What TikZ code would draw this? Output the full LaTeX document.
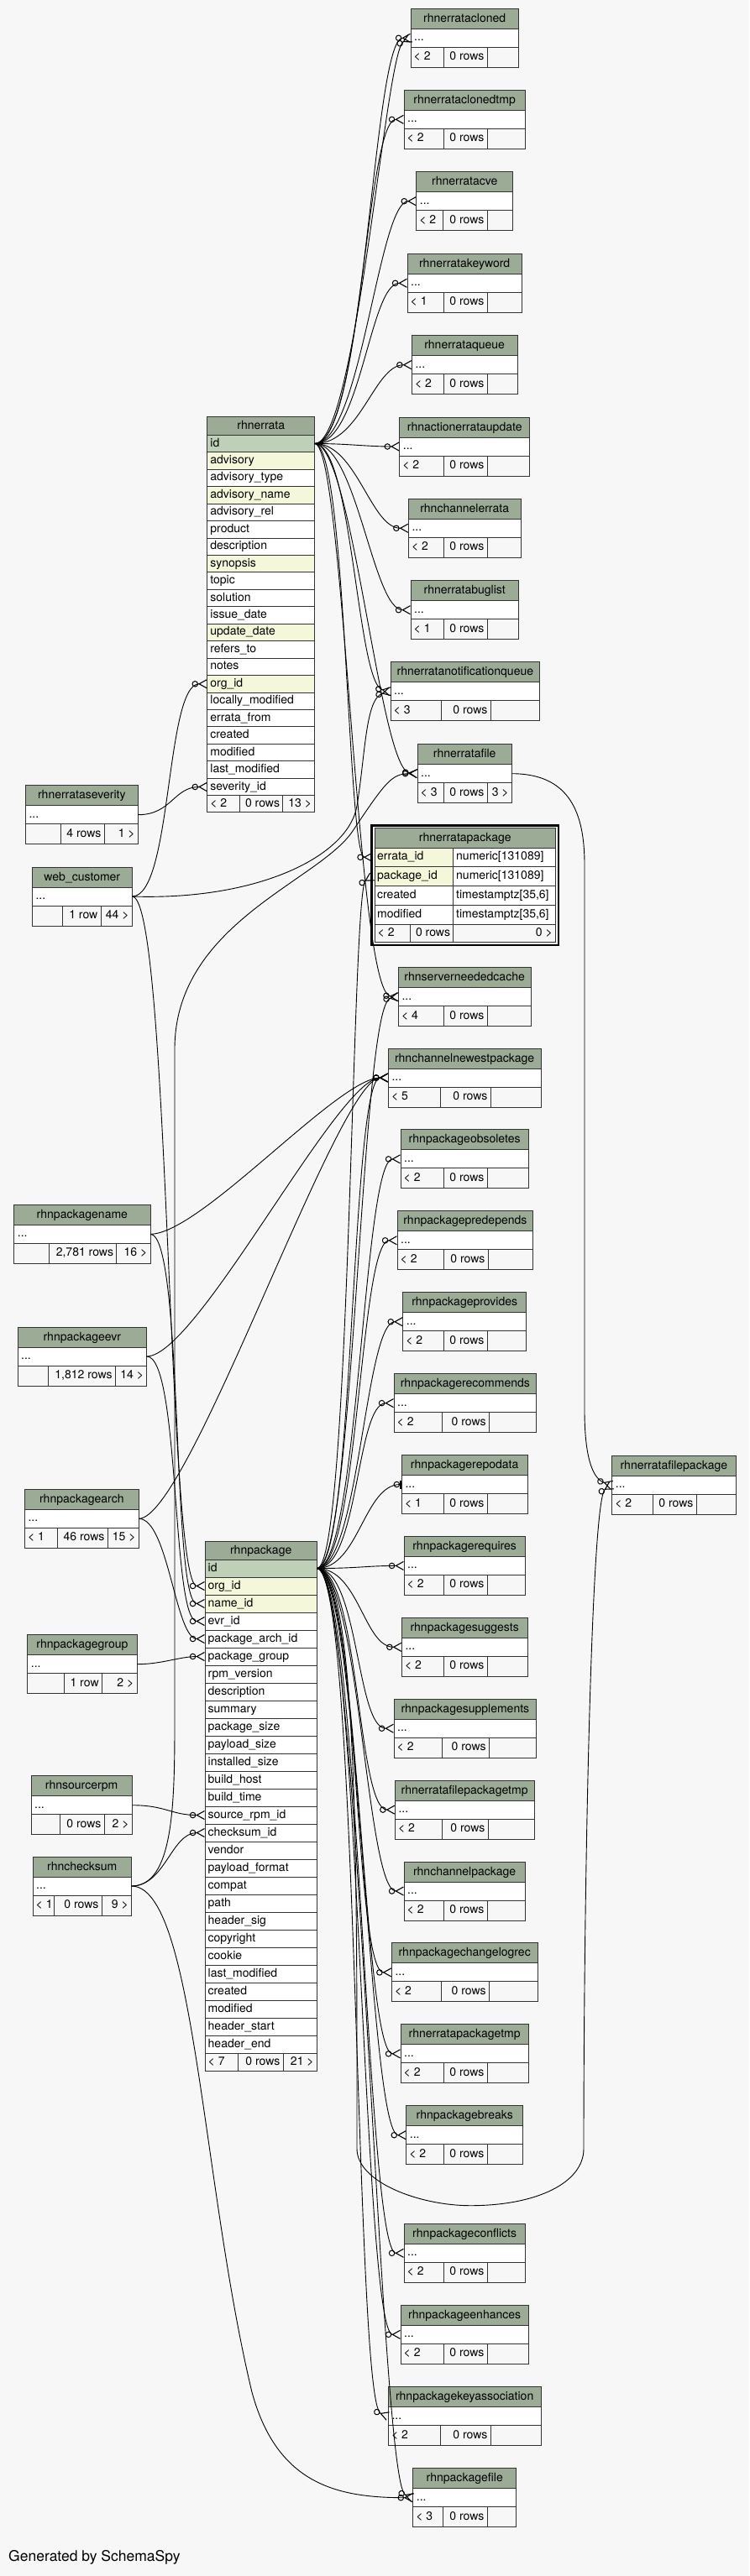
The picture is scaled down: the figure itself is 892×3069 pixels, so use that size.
\documentclass[tikz,border=0pt]{standalone}
\usepackage{fontspec}
\setmainfont{TeX Gyre Heros}
\usetikzlibrary{arrows.meta}
\definecolor{bg}{HTML}{F7F7F7}
\definecolor{hdr}{HTML}{9BAB96}
\definecolor{pk}{HTML}{BED1B8}
\definecolor{ix}{HTML}{F4F7DA}
\definecolor{pl}{HTML}{FFFFFF}
\definecolor{ft}{HTML}{F7F7F7}
\definecolor{bd}{HTML}{333333}
\tikzset{
  cellbox/.style={draw=bd, line width=1pt},
  txt/.style={font=\fontsize{14}{16}\selectfont, inner sep=0pt, text height=10pt, text depth=3pt, text=black},
  edge/.style={draw=black, line width=0.9pt},
  crowend/.style={-{Circle[open,length=7.5pt,width=7.5pt,line width=1pt]Straight Barb[reversed,length=9pt,width=10pt,line width=1.1pt]}},
  teeend/.style={-{Circle[open,length=7.5pt,width=7.5pt,line width=1pt]Bar[width=10pt,line width=2.2pt]}},
}
\def\curtitle{}
\newcommand\stab[9]{%
  \path[cellbox,fill=hdr] (#2,#3) rectangle (#4,#3+24);
  \node[txt] (#1-t) at ({(#2+#4)/2},#3+12.5) {\ifx\curtitle\empty #1\else\curtitle\fi};
  \path[cellbox,fill=white] (#2,#3+24) rectangle (#4,#3+46);
  \node[txt,anchor=west] (#1-d) at (#2+4,#3+35) {...};
  \coordinate (#1-w) at (#2,#3+35);
  \coordinate (#1-e) at (#4,#3+35);
  \path[cellbox,fill=ft] (#2,#3+46) rectangle (#5,#3+70);
  \path[cellbox,fill=ft] (#5,#3+46) rectangle (#6,#3+70);
  \path[cellbox,fill=ft] (#6,#3+46) rectangle (#4,#3+70);
  \node[txt,anchor=west] (#1-f1) at (#2+3.5,#3+58) {#7};
  \node[txt,anchor=east] (#1-f2) at (#6-3.5,#3+58) {#8};
  \node[txt,anchor=east] (#1-f3) at (#4-3.5,#3+58) {#9};
}
\newcommand\fk[4][crowend]{\draw[edge,#1] (#2) .. controls #3 .. (#4);}
\begin{document}
\begin{tikzpicture}[x=1pt,y=-1pt]
\path[fill=bg,use as bounding box] (0,0) rectangle (892,3069);

% ---------------- right column ----------------
\stab{rhnerratacloned}{489}{10.3}{617.3}{528}{580}{< 2}{0 rows}{}
\stab{rhnerrataclonedtmp}{481}{107.3}{625.3}{528}{580}{< 2}{0 rows}{}
\stab{rhnerratacve}{495.7}{204.7}{610.7}{527.7}{580}{< 2}{0 rows}{}
\stab{rhnerratakeyword}{485}{302.3}{621.3}{528}{580}{< 1}{0 rows}{}
\stab{rhnerrataqueue}{490.3}{399.7}{616}{528}{580}{< 2}{0 rows}{}
\stab{rhnactionerrataupdate}{475.7}{497}{630.7}{528}{580}{< 2}{0 rows}{}
\stab{rhnchannelerrata}{486.3}{594.3}{620}{528}{580}{< 2}{0 rows}{}
\stab{rhnerratabuglist}{489}{691.7}{617.3}{528}{580}{< 1}{0 rows}{}
\stab{rhnerratanotificationqueue}{465}{788.7}{642.7}{525.3}{584}{< 3}{0 rows}{}
\stab{rhnerratafile}{497}{886.7}{609.3}{528}{580}{< 3}{0 rows}{3 >}
\stab{rhnserverneededcache}{474.3}{1152.7}{632}{528}{580}{< 4}{0 rows}{}
\stab{rhnchannelnewestpackage}{462.3}{1249}{644}{524}{584}{< 5}{0 rows}{}
\stab{rhnpackageobsoletes}{477}{1345.9}{629.3}{528}{580}{< 2}{0 rows}{}
\stab{rhnpackagepredepends}{473}{1442.8}{634.7}{528}{581}{< 2}{0 rows}{}
\stab{rhnpackageprovides}{479.7}{1539.7}{626.7}{528}{580}{< 2}{0 rows}{}
\stab{rhnpackagerecommends}{469}{1636.6}{638.7}{526.7}{582.3}{< 2}{0 rows}{}
\stab{rhnpackagerepodata}{478.3}{1733.5}{628}{528}{580}{< 1}{0 rows}{}
\stab{rhnpackagerequires}{481}{1830.4}{625.3}{528}{580}{< 2}{0 rows}{}
\stab{rhnpackagesuggests}{478.3}{1927.3}{628}{528}{580}{< 2}{0 rows}{}
\stab{rhnpackagesupplements}{469}{2024.2}{638.7}{526.7}{582.3}{< 2}{0 rows}{}
\stab{rhnerratafilepackagetmp}{470.3}{2121.1}{636}{526.7}{581}{< 2}{0 rows}{}
\stab{rhnchannelpackage}{481}{2218}{625.3}{528}{580}{< 2}{0 rows}{}
\stab{rhnpackagechangelogrec}{466.3}{2314.9}{640}{525.3}{582.3}{< 2}{0 rows}{}
\stab{rhnerratapackagetmp}{477}{2411.8}{629.3}{528}{580}{< 2}{0 rows}{}
\stab{rhnpackagebreaks}{483.7}{2508.7}{622.7}{528}{580}{< 2}{0 rows}{}
\stab{rhnpackageconflicts}{481}{2649.3}{625.3}{528}{580}{< 2}{0 rows}{}
\stab{rhnpackageenhances}{477}{2746.3}{629.3}{528}{580}{< 2}{0 rows}{}
\stab{rhnpackagekeyassociation}{462.3}{2843.7}{644}{524}{584}{< 2}{0 rows}{}
\stab{rhnpackagefile}{491.7}{2940.7}{614.7}{527.7}{580}{< 3}{0 rows}{}
\stab{rhnerratafilepackage}{728.7}{1734.3}{876}{777}{829}{< 2}{0 rows}{}

% ---------------- left column ----------------
\stab{rhnerrataseverity}{30.3}{935.7}{164.3}{72}{124}{}{4 rows}{1 >}
\begin{scope}\def\curtitle{web\_customer}
\stab{webcustomer}{38.3}{1033}{157.3}{74.7}{120}{}{1 row}{44 >}
\end{scope}
\stab{rhnpackagename}{16.7}{1435.3}{179}{58.7}{138.7}{}{2,781 rows}{16 >}
\stab{rhnpackageevr}{21}{1581}{174.7}{57.3}{137.3}{}{1,812 rows}{14 >}
\stab{rhnpackagearch}{29.3}{1774.3}{165.3}{68}{128}{< 1}{46 rows}{15 >}
\stab{rhnpackagegroup}{32.7}{1947.7}{163}{76}{121.3}{}{1 row}{2 >}
\stab{rhnsourcerpm}{37}{2115.7}{157.3}{71.7}{124}{}{0 rows}{2 >}
\stab{rhnchecksum}{39}{2212}{156.5}{64.5}{121}{< 1}{0 rows}{9 >}

% ---------------- rhnerrata ----------------
\path[cellbox,fill=hdr] (246.7,496.7) rectangle (374.7,518.3);
\node[txt] (rhnerrata-t) at (310.7,508) {rhnerrata};
\foreach \n/\c [count=\i from 0] in {id/pk,advisory/ix,advisory\_type/pl,advisory\_name/ix,advisory\_rel/pl,product/pl,description/pl,synopsis/ix,topic/pl,solution/pl,issue\_date/pl,update\_date/ix,refers\_to/pl,notes/pl,org\_id/ix,locally\_modified/pl,errata\_from/pl,created/pl,modified/pl,last\_modified/pl,severity\_id/pl}{
  \path[cellbox,fill=\c] (246.7,518.3+20.45*\i) rectangle (374.7,538.75+20.45*\i);
  \node[txt,anchor=west] (rhnerrata-r\i) at (250.2,528.5+20.45*\i) {\n};
}
\path[cellbox,fill=ft] (246.7,947.7) rectangle (285,967.7);
\path[cellbox,fill=ft] (285,947.7) rectangle (336.7,967.7);
\path[cellbox,fill=ft] (336.7,947.7) rectangle (374.7,967.7);
\node[txt,anchor=west] (rhnerrata-f1) at (250.2,957.7) {< 2};
\node[txt,anchor=east] (rhnerrata-f2) at (333.2,957.7) {0 rows};
\node[txt,anchor=east] (rhnerrata-f3) at (371.2,957.7) {13 >};
\coordinate (rhnerrata-id) at (374.7,528.5);
\coordinate (rhnerrata-org) at (246.7,814.8);
\coordinate (rhnerrata-sev) at (246.7,937.5);

% ---------------- rhnpackage ----------------
\path[cellbox,fill=hdr] (244,1836) rectangle (377.3,1858);
\node[txt] (rhnpackage-t) at (310.7,1847.5) {rhnpackage};
\foreach \n/\c [count=\i from 0] in {id/pk,org\_id/ix,name\_id/ix,evr\_id/pl,package\_arch\_id/pl,package\_group/pl,rpm\_version/pl,description/pl,summary/pl,package\_size/pl,payload\_size/pl,installed\_size/pl,build\_host/pl,build\_time/pl,source\_rpm\_id/pl,checksum\_id/pl,vendor/pl,payload\_format/pl,compat/pl,path/pl,header\_sig/pl,copyright/pl,cookie/pl,last\_modified/pl,created/pl,modified/pl,header\_start/pl,header\_end/pl}{
  \path[cellbox,fill=\c] (244,1858+21*\i) rectangle (377.3,1879+21*\i);
  \node[txt,anchor=west] (rhnpackage-r\i) at (247.5,1868.5+21*\i) {\n};
}
\path[cellbox,fill=ft] (244,2446) rectangle (283,2467);
\path[cellbox,fill=ft] (283,2446) rectangle (337,2467);
\path[cellbox,fill=ft] (337,2446) rectangle (377.3,2467);
\node[txt,anchor=west] (rhnpackage-f1) at (247.5,2456.5) {< 7};
\node[txt,anchor=east] (rhnpackage-f2) at (333.5,2456.5) {0 rows};
\node[txt,anchor=east] (rhnpackage-f3) at (373.8,2456.5) {21 >};
\coordinate (rhnpackage-id) at (377.3,1868.5);
\coordinate (rhnpackage-org) at (244,1889.5);
\coordinate (rhnpackage-name) at (244,1910.5);
\coordinate (rhnpackage-evr) at (244,1931.5);
\coordinate (rhnpackage-arch) at (244,1952.5);
\coordinate (rhnpackage-group) at (244,1973.5);
\coordinate (rhnpackage-src) at (244,2162.5);
\coordinate (rhnpackage-chk) at (244,2183.5);

% ---------------- rhnerratapackage (selected) ----------------
\draw[draw=black,line width=2.6pt] (442.7,983.3) rectangle (665,1126);
\path[cellbox,fill=hdr] (446,986.5) rectangle (661.7,1010);
\node[txt] (rhnerratapackage-t) at (553.8,998.5) {rhnerratapackage};
\path[cellbox,fill=ix] (446,1010) rectangle (539.7,1032.7);
\path[cellbox,fill=white] (539.7,1010) rectangle (661.7,1032.7);
\path[cellbox,fill=ix] (446,1032.7) rectangle (539.7,1055.7);
\path[cellbox,fill=white] (539.7,1032.7) rectangle (661.7,1055.7);
\path[cellbox,fill=white] (446,1055.7) rectangle (539.7,1078.3);
\path[cellbox,fill=white] (539.7,1055.7) rectangle (661.7,1078.3);
\path[cellbox,fill=white] (446,1078.3) rectangle (539.7,1101);
\path[cellbox,fill=white] (539.7,1078.3) rectangle (661.7,1101);
\path[cellbox,fill=ft] (446,1101) rectangle (488,1122.8);
\path[cellbox,fill=ft] (488,1101) rectangle (539.7,1122.8);
\path[cellbox,fill=ft] (539.7,1101) rectangle (661.7,1122.8);
\node[txt,anchor=west] (ep-r0) at (449,1021.3) {errata\_id};
\node[txt,anchor=west] (ep-t0) at (543,1021.3) {numeric[131089]};
\node[txt,anchor=west] (ep-r1) at (449,1044.2) {package\_id};
\node[txt,anchor=west] (ep-t1) at (543,1044.2) {numeric[131089]};
\node[txt,anchor=west] (ep-r2) at (449,1067) {created};
\node[txt,anchor=west] (ep-t2) at (543,1067) {timestamptz[35,6]};
\node[txt,anchor=west] (ep-r3) at (449,1089.7) {modified};
\node[txt,anchor=west] (ep-t3) at (543,1089.7) {timestamptz[35,6]};
\node[txt,anchor=west] (ep-f1) at (449.5,1112) {< 2};
\node[txt,anchor=east] (ep-f2) at (536.2,1112) {0 rows};
\node[txt,anchor=east] (ep-f3) at (658,1112) {0 >};
\coordinate (ep-errata) at (443.5,1021.3);
\coordinate (ep-package) at (443.5,1044.2);

% ---------------- connectors: rhnerrata.id ----------------
\fk{rhnerrata-id}{+(60,0) and +(-45,0)}{rhnerratacloned-w}
\fk{rhnerrata-id}{+(50,0) and +(-30,15)}{rhnerratacloned-w}
\fk{rhnerrata-id}{+(55,0) and +(-45,0)}{rhnerrataclonedtmp-w}
\fk{rhnerrata-id}{+(55,0) and +(-45,0)}{rhnerratacve-w}
\fk{rhnerrata-id}{+(55,0) and +(-45,0)}{rhnerratakeyword-w}
\fk{rhnerrata-id}{+(55,0) and +(-45,0)}{rhnerrataqueue-w}
\fk{rhnerrata-id}{+(40,0) and +(-40,0)}{rhnactionerrataupdate-w}
\fk{rhnerrata-id}{+(50,0) and +(-45,0)}{rhnchannelerrata-w}
\fk{rhnerrata-id}{+(50,0) and +(-45,0)}{rhnerratabuglist-w}
\fk{rhnerrata-id}{+(45,0) and +(-40,-8)}{rhnerratanotificationqueue-w}
\fk{rhnerrata-id}{+(45,0) and +(-45,-5)}{rhnerratafile-w}
\fk{rhnerrata-id}{+(38,0) and +(-30,0)}{ep-errata}
\fk{rhnerrata-id}{+(35,0) and +(-50,-5)}{rhnserverneededcache-w}

% ---------------- connectors: rhnpackage.id ----------------
\fk{rhnpackage-id}{+(40,0) and +(-25,15)}{ep-package}
\fk{rhnpackage-id}{+(45,0) and +(-45,8)}{rhnserverneededcache-w}
\fk{rhnpackage-id}{+(45,0) and +(-45,0)}{rhnchannelnewestpackage-w}
\fk{rhnpackage-id}{+(50,0) and +(-45,0)}{rhnpackageobsoletes-w}
\fk{rhnpackage-id}{+(50,0) and +(-45,0)}{rhnpackagepredepends-w}
\fk{rhnpackage-id}{+(50,0) and +(-45,0)}{rhnpackageprovides-w}
\fk{rhnpackage-id}{+(50,0) and +(-45,0)}{rhnpackagerecommends-w}
\fk[teeend]{rhnpackage-id}{+(50,0) and +(-45,0)}{rhnpackagerepodata-w}
\fk{rhnpackage-id}{+(50,0) and +(-45,0)}{rhnpackagerequires-w}
\fk{rhnpackage-id}{+(50,0) and +(-45,0)}{rhnpackagesuggests-w}
\fk{rhnpackage-id}{+(50,0) and +(-45,0)}{rhnpackagesupplements-w}
\fk{rhnpackage-id}{+(50,0) and +(-45,0)}{rhnerratafilepackagetmp-w}
\fk{rhnpackage-id}{+(50,0) and +(-45,0)}{rhnchannelpackage-w}
\fk{rhnpackage-id}{+(50,0) and +(-45,0)}{rhnpackagechangelogrec-w}
\fk{rhnpackage-id}{+(50,0) and +(-45,0)}{rhnerratapackagetmp-w}
\fk{rhnpackage-id}{+(50,0) and +(-45,0)}{rhnpackagebreaks-w}
\fk{rhnpackage-id}{+(50,0) and +(-45,0)}{rhnpackageconflicts-w}
\fk{rhnpackage-id}{+(50,0) and +(-45,0)}{rhnpackageenhances-w}
\fk{rhnpackage-id}{+(50,0) and +(-40,-15)}{rhnpackagekeyassociation-w}
\fk{rhnpackage-id}{+(50,0) and +(-40,-15)}{rhnpackagefile-w}
\draw[edge,crowend] (rhnpackage-id) .. controls +(50,0) and +(0,-300) .. (425,2560)
   .. controls +(0,40) and +(-60,0) .. (560,2627.7)
   .. controls +(80,0) and +(0,40) .. (695,2560)
   .. controls +(0,-300) and +(-25,15) .. (rhnerratafilepackage-w);
\draw[edge,crowend] (rhnerratafile-e) .. controls +(70,0) and +(0,-60) .. (696,1030)
   -- (696,1680) .. controls +(0,50) and +(-25,-8) .. (rhnerratafilepackage-w);

% ---------------- connectors: left tables ----------------
\fk{rhnerrataseverity-e}{+(40,0) and +(-40,0)}{rhnerrata-sev}
\fk{webcustomer-e}{+(48,0) and +(-50,0)}{rhnerrata-org}
\draw[edge,crowend] (webcustomer-e) .. controls +(150,5) and +(-10,60) .. (425,960)
   .. controls +(10,-60) and +(-30,8) .. (rhnerratanotificationqueue-w);
\fk{webcustomer-e}{+(45,0) and +(-45,0)}{rhnpackage-org}
\fk{rhnpackagename-e}{+(60,0) and +(-60,0)}{rhnchannelnewestpackage-w}
\fk{rhnpackagename-e}{+(40,0) and +(-40,0)}{rhnpackage-name}
\fk{rhnpackageevr-e}{+(60,0) and +(-60,0)}{rhnchannelnewestpackage-w}
\fk{rhnpackageevr-e}{+(40,0) and +(-40,0)}{rhnpackage-evr}
\fk{rhnpackagearch-e}{+(60,0) and +(-60,0)}{rhnchannelnewestpackage-w}
\fk{rhnpackagearch-e}{+(35,0) and +(-35,0)}{rhnpackage-arch}
\fk{rhnpackagegroup-e}{+(30,0) and +(-30,0)}{rhnpackage-group}
\fk{rhnsourcerpm-e}{+(40,0) and +(-40,0)}{rhnpackage-src}
\fk{rhnchecksum-e}{+(40,0) and +(-40,0)}{rhnpackage-chk}
\draw[edge,crowend] (rhnchecksum-e) .. controls +(50,0) and +(0,100) .. (208,2050)
   -- (208,1250) .. controls +(0,-150) and +(-40,60) .. (420,990)
   .. controls +(40,-60) and +(-30,0) .. (rhnerratafile-w);
\draw[edge,crowend] (rhnchecksum-e) .. controls +(75,0) and +(-60,-250) .. (300,2850)
   .. controls +(30,110) and +(-90,0) .. (rhnpackagefile-w);

\node[anchor=west,font=\fontsize{17.5}{20}\selectfont,inner sep=0pt] (credit) at (10,3047) {Generated by SchemaSpy};
\end{tikzpicture}
\end{document}
